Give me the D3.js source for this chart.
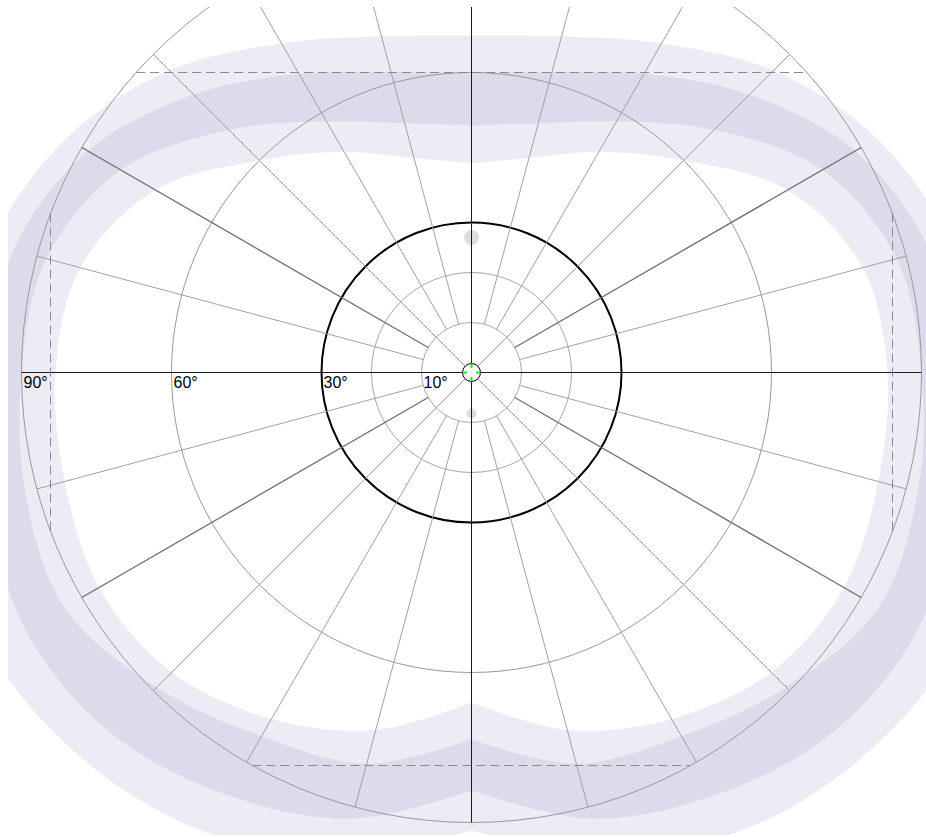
<!DOCTYPE html>
<html>
<head>
<meta charset="utf-8">
<script src="https://cdn.jsdelivr.net/npm/d3@7"></script>
<style>
  html, body { margin: 0; padding: 0; background: #fff; }
  svg { display: block; }
</style>
</head>
<body>
<svg id="chart" width="926" height="837"></svg>
<script>
// ---- grid definition (degrees of eccentricity / meridian angle) ----
const ringDegrees = [10, 20, 60, 90];
const boldRingDegree = 30;
const labelDegrees = [90, 60, 30, 10];
const labelTexts = ["90°", "60°", "30°", "10°"];
const meridianAngles = [0, 15, 30, 45, 60, 75, 90, 105, 120, 135, 150, 165,
                        180, 195, 210, 225, 240, 255, 270, 285, 300, 315, 330, 345];
const strongMeridians = [60, 120, 240, 300];

// ---- normal-field bands: eccentricity (deg) per angle from the superior meridian ----
const bandPhi        = [0, 15, 30, 45, 60, 75, 90, 105, 120, 135, 150, 165, 180];
const outerLightEdge = [67.4, 69.6, 76.0, 85.4, 93.6, 99.4, 103.0, 107.0, 111.0, 109.6, 106.2, 100.0, 91.6];
const outerDarkEdge  = [59.8, 62.2, 69.0, 78.6, 88.6, 94.8, 97.0, 100.0, 103.0, 102.0, 97.6, 92.4, 83.6];
const innerDarkEdge  = [49.4, 51.6, 58.0, 68.6, 81.0, 88.0, 90.0, 92.4, 94.0, 89.0, 84.0, 81.0, 73.4];
const innerLightEdge = [41.8, 44.4, 51.0, 60.0, 73.0, 81.0, 83.2, 84.2, 86.0, 84.8, 80.0, 74.0, 66.0];

// ---- field limits (dashed chords) ----
const limitSuperior = 60;
const limitLateral = 84.2;
const limitInferior = 78.6;

// ---- spot markers ----
const markerEcc = [27, 8.2];
const markerAngle = [0, 180];
const markerValue = [2.25, 1];

// ---- layout ----
const cx = 471.5, cy = 372.5;
const r = d3.scaleLinear().domain([0, 90]).range([0, 450]);
const toRad = d => d * Math.PI / 180;
const px = (a, e) => Math.sin(toRad(a)) * r(e);
const py = (a, e) => -Math.cos(toRad(a)) * r(e);

const svg = d3.select("#chart");
svg.append("defs").append("clipPath").attr("id", "plot")
  .append("rect").attr("x", 8).attr("y", 7).attr("width", 926).attr("height", 828);

const g = svg.append("g").attr("clip-path", "url(#plot)")
  .append("g").attr("transform", `translate(${cx},${cy})`);

// bands: each half drawn as its own smooth curve, joined on the vertical meridian
const radial = d3.lineRadial()
  .curve(d3.curveCatmullRom.alpha(0.5))
  .angle(d => d[0])
  .radius(d => r(d[1]));

function loop(vals) {
  const right = bandPhi.map((p, i) => [toRad(p), vals[i]]);
  const left = bandPhi.map((p, i) => [toRad(360 - p), vals[i]]).reverse();
  return radial(right) + radial(left).replace(/^M/, "L") + "Z";
}

g.append("path")
  .attr("d", loop(outerLightEdge) + loop(innerLightEdge))
  .attr("fill-rule", "evenodd")
  .attr("fill", "#ececf5");

g.append("path")
  .attr("d", loop(outerDarkEdge) + loop(innerDarkEdge))
  .attr("fill-rule", "evenodd")
  .attr("fill", "#dbdbec");

// spot markers
const markerSize = d3.scaleSqrt().domain([0, 2.25]).range([0, 7.5]);
g.selectAll("circle.marker")
  .data(markerEcc.map((e, i) => ({ e, a: markerAngle[i], v: markerValue[i] })))
  .join("circle")
  .attr("class", "marker")
  .attr("cx", d => px(d.a, d.e))
  .attr("cy", d => py(d.a, d.e))
  .attr("r", d => markerSize(d.v))
  .attr("fill", "#dddddd");

// rings
g.selectAll("circle.ring")
  .data(ringDegrees)
  .join("circle")
  .attr("class", "ring")
  .attr("r", d => r(d))
  .attr("fill", "none")
  .attr("stroke", d => d <= 20 ? "#a8a8a8" : "#999999")
  .attr("stroke-width", 1);

g.append("circle")
  .attr("r", r(boldRingDegree))
  .attr("fill", "none")
  .attr("stroke", "#000")
  .attr("stroke-width", 2);

// meridians
const fixR = 9;
g.selectAll("line.meridian")
  .data(meridianAngles.filter(a => a % 90 !== 0))
  .join("line")
  .attr("class", "meridian")
  .attr("x1", a => a % 45 === 0 ? Math.sin(toRad(a)) * fixR : px(a, 10))
  .attr("y1", a => a % 45 === 0 ? -Math.cos(toRad(a)) * fixR : py(a, 10))
  .attr("x2", a => px(a, 90))
  .attr("y2", a => py(a, 90))
  .attr("stroke", a => strongMeridians.includes(a) ? "#6e6e6e" : "#a0a0a0")
  .attr("stroke-width", a => strongMeridians.includes(a) ? 1.3 : 1);

// main axes
g.selectAll("line.axis")
  .data(meridianAngles.filter(a => a % 90 === 0))
  .join("line")
  .attr("class", "axis")
  .attr("x1", a => Math.sin(toRad(a)) * fixR)
  .attr("y1", a => -Math.cos(toRad(a)) * fixR)
  .attr("x2", a => px(a, 90))
  .attr("y2", a => py(a, 90))
  .attr("stroke", "#1a1a1a")
  .attr("stroke-width", 1);

// dashed field limits (chords ending on the 90° ring)
const R = r(90);
const half = d => Math.sqrt(R * R - d * d);
const chords = [
  [-half(r(limitSuperior)), -r(limitSuperior), half(r(limitSuperior)), -r(limitSuperior)],
  [-half(r(limitInferior)), r(limitInferior), half(r(limitInferior)), r(limitInferior)],
  [-r(limitLateral), -half(r(limitLateral)), -r(limitLateral), half(r(limitLateral))],
  [r(limitLateral), -half(r(limitLateral)), r(limitLateral), half(r(limitLateral))]
];
g.selectAll("line.limit")
  .data(chords)
  .join("line")
  .attr("class", "limit")
  .attr("x1", d => d[0]).attr("y1", d => d[1])
  .attr("x2", d => d[2]).attr("y2", d => d[3])
  .attr("stroke", "#8a8a8a")
  .attr("stroke-width", 1)
  .attr("stroke-dasharray", "9,5");

// eccentricity labels along the left horizontal meridian
g.selectAll("text.lbl")
  .data(labelDegrees)
  .join("text")
  .attr("class", "lbl")
  .attr("x", d => -r(d) + 2)
  .attr("y", 15)
  .attr("font-family", "Liberation Sans, Arial, sans-serif")
  .attr("font-size", 16)
  .attr("fill", "#000")
  .text((d, i) => labelTexts[i]);

// fixation target
g.append("circle")
  .attr("r", fixR)
  .attr("fill", "#fff")
  .attr("stroke", "#000")
  .attr("stroke-width", 1);

g.selectAll("line.fix")
  .data([0, 90, 180, 270])
  .join("line")
  .attr("class", "fix")
  .attr("x1", a => Math.sin(toRad(a)) * fixR)
  .attr("y1", a => -Math.cos(toRad(a)) * fixR)
  .attr("x2", a => Math.sin(toRad(a)) * 4.5)
  .attr("y2", a => -Math.cos(toRad(a)) * 4.5)
  .attr("stroke", "#22e622")
  .attr("stroke-width", 2);
</script>
</body>
</html>
